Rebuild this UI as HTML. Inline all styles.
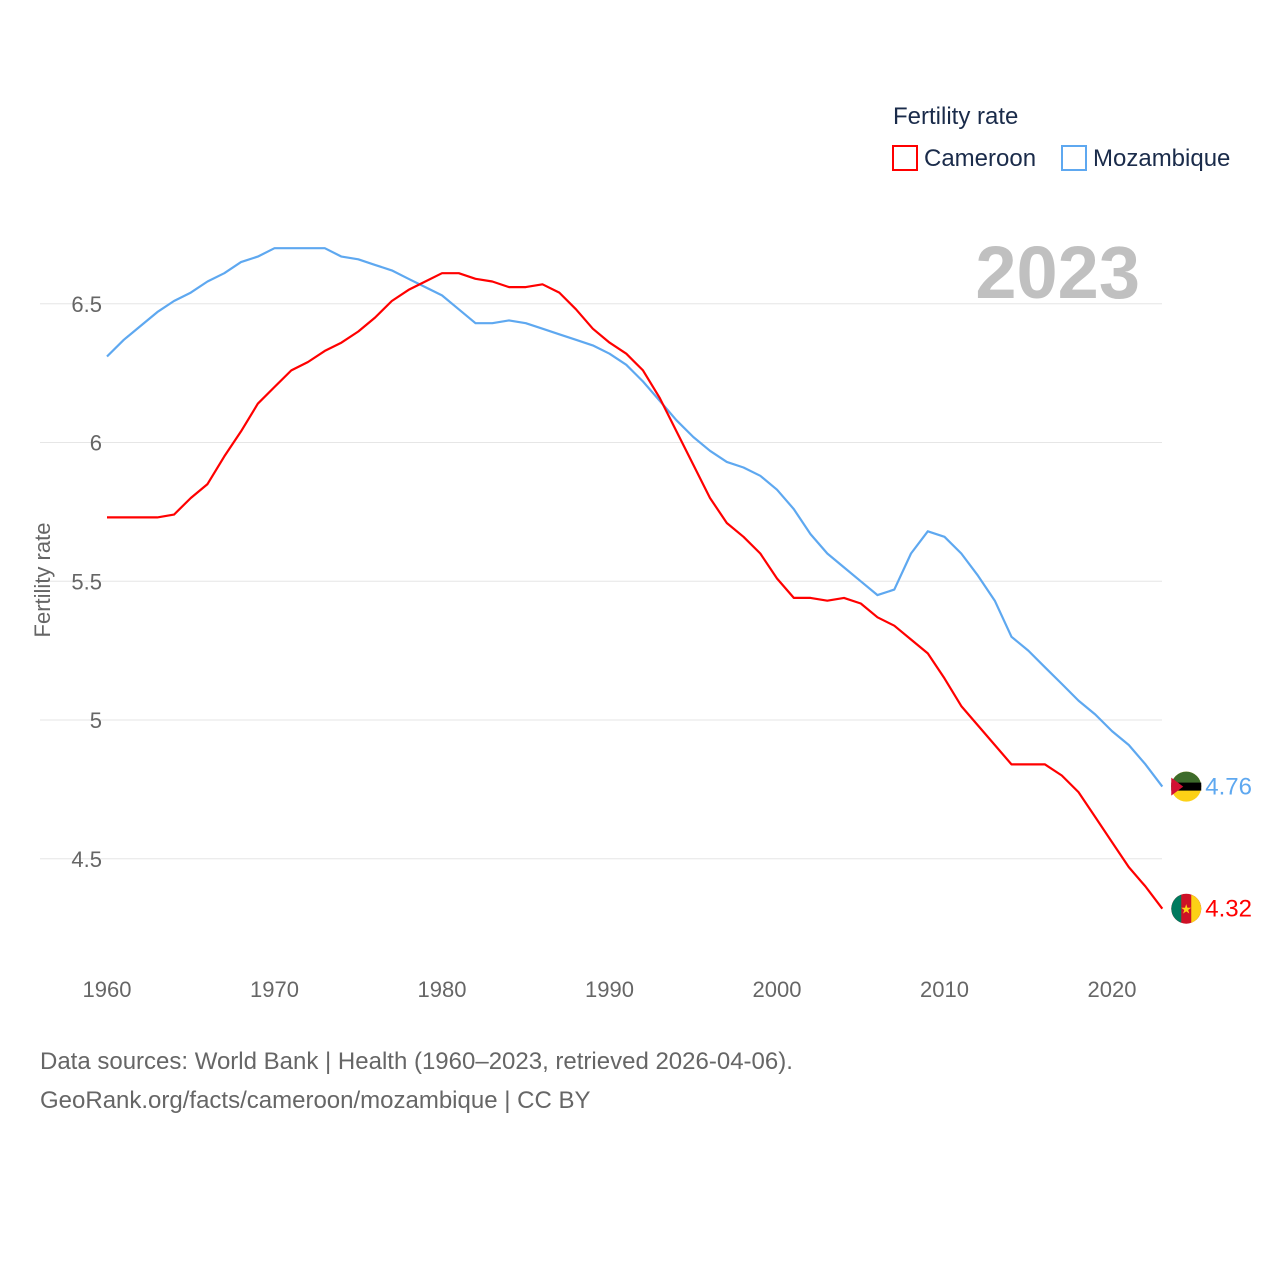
<!DOCTYPE html>
<html><head><meta charset="utf-8">
<style>
body{margin:0;background:#fff;font-family:"Liberation Sans",sans-serif;}
svg text{font-family:"Liberation Sans",sans-serif;}
</style></head>
<body>
<svg id="chart" width="1280" height="1280" xmlns="http://www.w3.org/2000/svg">
<g id="grid"></g>
<g id="yticks"></g>
<g id="xticks"></g>
<text x="0" y="0" transform="translate(50,580) rotate(-90)" text-anchor="middle" font-size="22" fill="#666">Fertility rate</text>
<text x="1140" y="298" text-anchor="end" font-size="74" font-weight="bold" fill="#c0c0c0">2023</text>
<g id="series"></g>
<g>
<text x="893" y="124" font-size="24" fill="#1a2b4a">Fertility rate</text>
<g><rect x="893" y="146" width="24" height="24" fill="none" stroke="#ff0000" stroke-width="2"/><text x="924" y="166" font-size="24" fill="#1a2b4a">Cameroon</text></g>
<g><rect x="1062" y="146" width="24" height="24" fill="none" stroke="#5ea8f0" stroke-width="2"/><text x="1093" y="166" font-size="24" fill="#1a2b4a">Mozambique</text></g>
</g>
<text x="40" y="1069" font-size="24" fill="#666">Data sources: World Bank | Health (1960–2023, retrieved 2026-04-06).</text>
<text x="40" y="1108" font-size="24" fill="#666">GeoRank.org/facts/cameroon/mozambique | CC BY</text>
</svg>
<script>
const years=[];for(let y=1960;y<=2023;y++)years.push(y);
const cameroon=[5.73,5.73,5.73,5.73,5.74,5.80,5.85,5.95,6.04,6.14,6.20,6.26,6.29,6.33,6.36,6.40,6.45,6.51,6.55,6.58,6.61,6.61,6.59,6.58,6.56,6.56,6.57,6.54,6.48,6.41,6.36,6.32,6.26,6.16,6.04,5.92,5.80,5.71,5.66,5.60,5.51,5.44,5.44,5.43,5.44,5.42,5.37,5.34,5.29,5.24,5.15,5.05,4.98,4.91,4.84,4.84,4.84,4.80,4.74,4.65,4.56,4.47,4.40,4.32];
const mozambique=[6.31,6.37,6.42,6.47,6.51,6.54,6.58,6.61,6.65,6.67,6.70,6.70,6.70,6.70,6.67,6.66,6.64,6.62,6.59,6.56,6.53,6.48,6.43,6.43,6.44,6.43,6.41,6.39,6.37,6.35,6.32,6.28,6.22,6.15,6.08,6.02,5.97,5.93,5.91,5.88,5.83,5.76,5.67,5.60,5.55,5.50,5.45,5.47,5.60,5.68,5.66,5.60,5.52,5.43,5.30,5.25,5.19,5.13,5.07,5.02,4.96,4.91,4.84,4.76];
const yTicks=[4.5,5,5.5,6,6.5];
const xTicks=[1960,1970,1980,1990,2000,2010,2020];
const NS="http://www.w3.org/2000/svg";
const X=v=>107+(v-1960)*16.75;
const Y=v=>720-(v-5)*277.5;
function mk(tag,attrs,parent){const e=document.createElementNS(NS,tag);for(const k in attrs)e.setAttribute(k,attrs[k]);parent.appendChild(e);return e;}
const grid=document.getElementById('grid'),yt=document.getElementById('yticks'),xt=document.getElementById('xticks'),ser=document.getElementById('series');
yTicks.forEach(t=>{
 const l=mk('line',{x1:40,x2:1162,y1:Y(t),y2:Y(t),stroke:'#e6e6e6','stroke-width':1},grid);
 
 
 const tx=mk('text',{x:102,y:Y(t)+8,'text-anchor':'end','font-size':22,fill:'#666'},yt);
 tx.textContent=String(t);
 
 
});
xTicks.forEach(t=>{
 const tx=mk('text',{x:X(t),y:997,'text-anchor':'middle','font-size':22,fill:'#666'},xt);
 tx.textContent=String(t);
 
 
});
function line(vals,color,name){
 const d=vals.map((v,i)=>(i?'L':'M')+X(years[i]).toFixed(1)+' '+Y(v).toFixed(1)).join(' ');
 const p=mk('path',{d:d,fill:'none',stroke:color,'stroke-width':2.2,'stroke-linejoin':'round'},ser);
 
 
}
line(mozambique,'#5ea8f0','mozambique-line');
line(cameroon,'#ff0000','cameroon-line');
function endMark(vals,color,name,flag){
 const v=vals[vals.length-1],x=X(years[years.length-1])+24,y=Y(v);
 const g=mk('g',{},ser);
 
 
 if(flag==='cm'){
  mk('circle',{cx:x,cy:y,r:15,fill:'#ce1126'},g);
  mk('path',{d:`M${x-5} ${y-14.1} A15 15 0 0 0 ${x-5} ${y+14.1} Z`,fill:'#007a5e'},g);
  mk('path',{d:`M${x+5} ${y-14.1} A15 15 0 0 1 ${x+5} ${y+14.1} Z`,fill:'#fcd116'},g);
  mk('text',{x:x,y:y+5,'text-anchor':'middle','font-size':13,fill:'#fcd116'},g).textContent='★';
 }else{
  mk('circle',{cx:x,cy:y,r:15,fill:'#fcd116'},g);
  mk('path',{d:`M${x-15} ${y} A15 15 0 0 1 ${x+15} ${y} Z`,fill:'#3d6b2a'},g);
  mk('rect',{x:x-15,y:y-4,width:30,height:8,fill:'#000'},g);
  mk('path',{d:`M${x-15} ${y-9} L${x-3} ${y} L${x-15} ${y+9} Z`,fill:'#d21034'},g);
 }
 const t=mk('text',{x:x+19,y:y+8,'font-size':24,fill:color},ser);
 t.textContent=v.toFixed(2);
 
 
}
endMark(mozambique,'#5ea8f0','mozambique','mz');
endMark(cameroon,'#ff0000','cameroon','cm');
</script>
</body></html>
